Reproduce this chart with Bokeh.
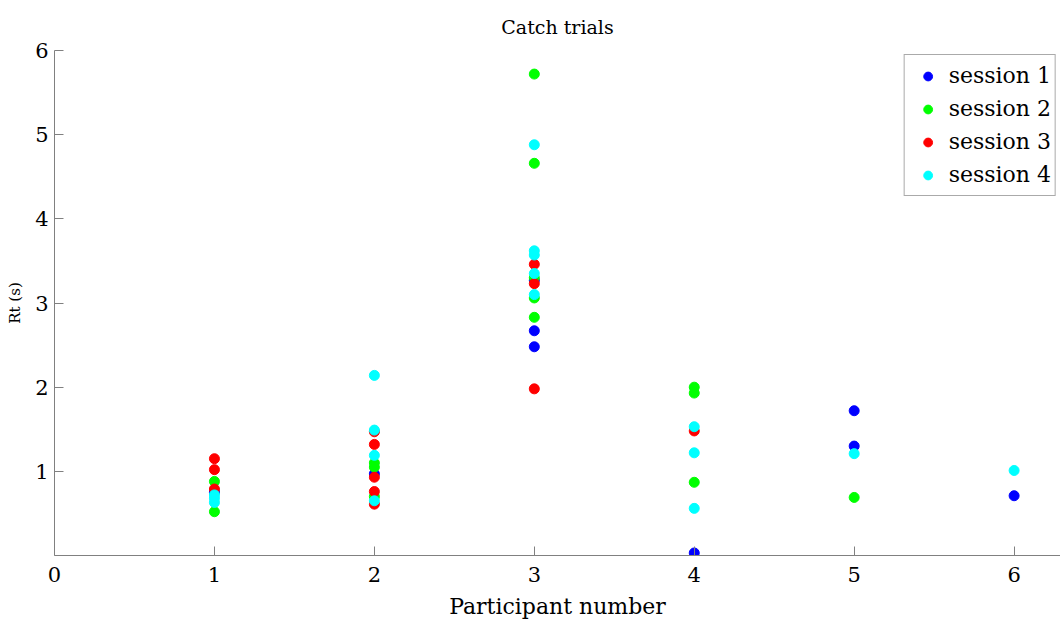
from bokeh.plotting import figure
from bokeh.models import Range1d, FixedTicker
from bokeh.embed import file_html
from bokeh.resources import INLINE

# Data
session1_x = [1, 2, 3, 3, 3, 4, 5, 5, 6]
session1_rt = [0.75, 0.97, 3.27, 2.67, 2.48, 0.03, 1.72, 1.30, 0.71]
session2_x = [1, 1, 2, 2, 2, 3, 3, 3, 3, 3, 4, 4, 4, 5]
session2_rt = [0.88, 0.52, 1.10, 1.05, 0.70, 5.72, 4.66, 3.30, 3.06, 2.83, 2.00, 1.93, 0.87, 0.69]
session3_x = [1, 1, 1, 2, 2, 2, 2, 2, 3, 3, 3, 4]
session3_rt = [1.15, 1.02, 0.79, 1.47, 1.32, 0.93, 0.76, 0.61, 3.46, 3.23, 1.98, 1.48]
session4_x = [1, 1, 1, 2, 2, 2, 2, 3, 3, 3, 3, 3, 4, 4, 4, 5, 6]
session4_rt = [0.72, 0.63, 0.68, 2.14, 1.49, 1.19, 0.65, 4.88, 3.62, 3.57, 3.35, 3.10, 1.53, 1.22, 0.56, 1.21, 1.01]

series_names = ["session 1", "session 2", "session 3", "session 4"]
series_colors = ["#0000FF", "#00FF00", "#FF0000", "#00FFFF"]
x_ticks = [0, 1, 2, 3, 4, 5, 6]
y_ticks = [1, 2, 3, 4, 5, 6]

FONT = "DejaVu Serif"

p = figure(width=1060, height=621, output_backend="svg", toolbar_location=None,
           x_range=Range1d(0, 6.29), y_range=Range1d(0, 6),
           min_border_left=54, min_border_right=0, min_border_top=50, min_border_bottom=66)
p.outline_line_color = None
p.xgrid.grid_line_color = None
p.ygrid.grid_line_color = None
p.background_fill_color = "white"
p.border_fill_color = "white"

p.title.text = "Catch trials"
p.title.text_font = FONT
p.title.text_font_size = "19px"
p.title.text_font_style = "normal"
p.title.text_color = "black"
p.title.align = "center"
p.title.standoff = 26

xs = [session1_x, session2_x, session3_x, session4_x]
ys = [session1_rt, session2_rt, session3_rt, session4_rt]
for x, y, name, c in zip(xs, ys, series_names, series_colors):
    p.scatter(x, y, size=10, color=c, line_color=c, legend_label=name)

for ax in (p.xaxis[0], p.yaxis[0]):
    ax.axis_line_color = "#808080"
    ax.major_tick_line_color = "#808080"
    ax.major_tick_in = 9
    ax.major_tick_out = 0
    ax.minor_tick_line_color = None
    ax.major_label_text_font = FONT
    ax.major_label_text_font_size = "21px"
    ax.major_label_text_color = "black"
    ax.axis_label_text_font = FONT
    ax.axis_label_text_font_style = "normal"
    ax.axis_label_text_color = "black"

p.xaxis.ticker = FixedTicker(ticks=x_ticks)
p.yaxis.ticker = FixedTicker(ticks=y_ticks)
p.xaxis.major_label_standoff = 11
p.yaxis.major_label_standoff = 6
p.xaxis.axis_label = "Participant number"
p.xaxis.axis_label_text_font_size = "22px"
p.xaxis.axis_label_standoff = 9
p.yaxis.axis_label = "Rt (s)"
p.yaxis.axis_label_text_font_size = "15px"
p.yaxis.axis_label_standoff = 8

lg = p.legend[0]
lg.location = "top_right"
lg.label_text_font = FONT
lg.label_text_font_size = "22px"
lg.label_text_color = "black"
lg.border_line_color = "#555555"
lg.border_line_width = 1
lg.background_fill_color = "white"
lg.background_fill_alpha = 1
lg.margin = 4
lg.padding = 4
lg.spacing = 0
lg.label_height = 33
lg.glyph_height = 22
lg.glyph_width = 38
lg.label_standoff = 2

open("out.html", "w").write(file_html(p, INLINE))
